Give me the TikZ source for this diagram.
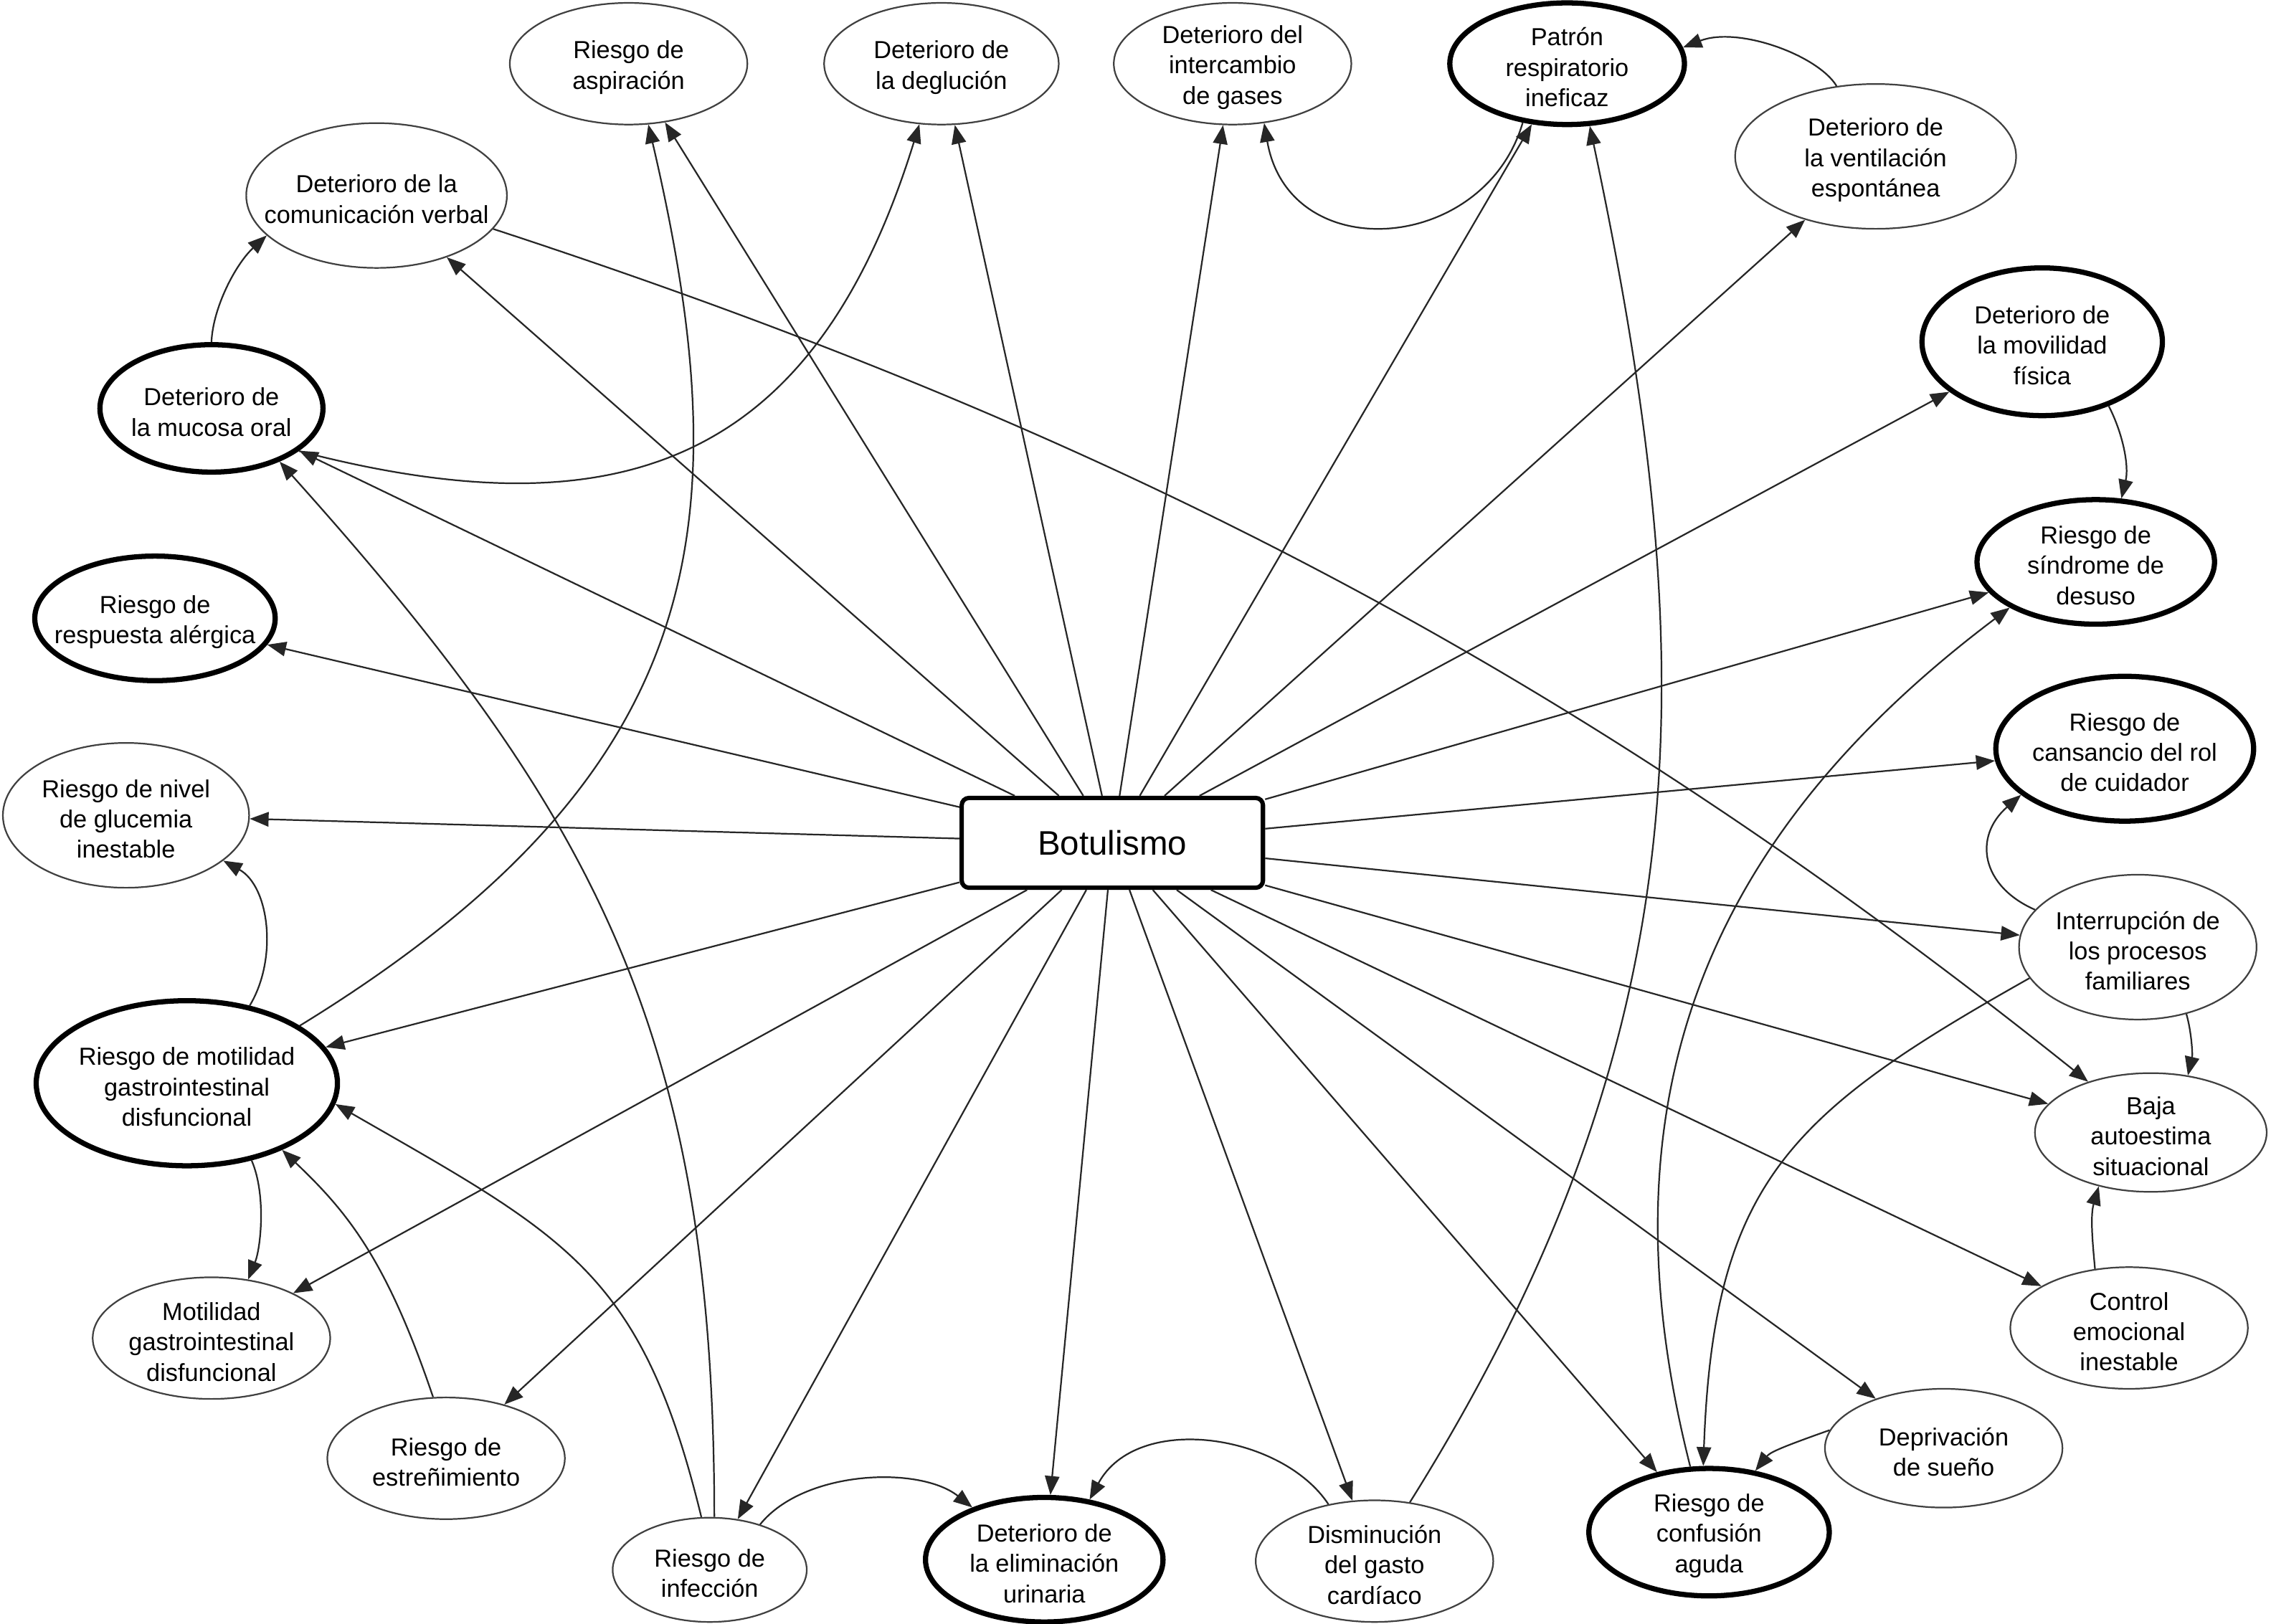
\documentclass[tikz,border=0pt]{standalone}
\usepackage{fontspec}
\setmainfont{Liberation Sans}
\usetikzlibrary{arrows.meta,shapes.geometric}
\begin{document}
\begin{tikzpicture}[x=1pt,y=-1pt,
 dx/.style={ellipse, draw=black!75, line width=1.1pt, fill=white, inner sep=0pt},
 dxb/.style={ellipse, draw=black, line width=3.6pt, fill=white, inner sep=0pt},
 txt/.style={align=center, font=\fontsize{17}{21}\selectfont, inner sep=0pt, text=black, yshift=-2.5pt},
 edge/.style={draw=black!85, line width=1.1pt, -{Triangle[length=13pt,width=10pt]}},
 box/.style={draw=black, line width=3pt, rounded corners=5pt, fill=white, minimum width=208pt, minimum height=62pt, font=\fontsize{23.5}{28}\selectfont}
]
\useasboundingbox (0,0) rectangle (1568,1121);
\fill[white] (0,0) rectangle (1568,1121);

% nodes
\node[box] (B) at (768,582) {Botulismo};
\node[dx,  minimum width=164pt, minimum height=84pt]  (asp)      at (434,44)   {};
\node[dx,  minimum width=162pt, minimum height=84pt]  (degl)     at (650,44)   {};
\node[dx,  minimum width=164pt, minimum height=84pt]  (inter)    at (851,44)   {};
\node[dxb, minimum width=162pt, minimum height=84pt]  (patron)   at (1082,44)  {};
\node[dx,  minimum width=194pt, minimum height=100pt] (vent)     at (1295,108) {};
\node[dxb, minimum width=166pt, minimum height=102pt] (movil)    at (1410,236) {};
\node[dxb, minimum width=164pt, minimum height=86pt]  (desuso)   at (1447,388) {};
\node[dxb, minimum width=178pt, minimum height=100pt] (cansancio) at (1467,517) {};
\node[dx,  minimum width=164pt, minimum height=100pt] (interr)   at (1476,654) {};
\node[dx,  minimum width=160pt, minimum height=82pt]  (baja)     at (1485,782) {};
\node[dx,  minimum width=164pt, minimum height=84pt]  (control)  at (1470,917) {};
\node[dx,  minimum width=164pt, minimum height=82pt]  (depriv)   at (1342,1000) {};
\node[dxb, minimum width=166pt, minimum height=88pt]  (confus)   at (1180,1058) {};
\node[dx,  minimum width=164pt, minimum height=84pt]  (dismin)   at (949,1078) {};
\node[dxb, minimum width=164pt, minimum height=86pt]  (elim)     at (721,1077) {};
\node[dx,  minimum width=134pt, minimum height=72pt]  (infec)    at (490,1084) {};
\node[dx,  minimum width=164pt, minimum height=84pt]  (estren)   at (308,1007) {};
\node[dx,  minimum width=164pt, minimum height=84pt]  (motil)    at (146,924)  {};
\node[dxb, minimum width=208pt, minimum height=114pt] (rmotil)   at (129,748)  {};
\node[dx,  minimum width=170pt, minimum height=100pt] (gluc)     at (87,563)   {};
\node[dxb, minimum width=166pt, minimum height=86pt]  (resp)     at (107,427)  {};
\node[dxb, minimum width=154pt, minimum height=88pt]  (mucosa)   at (146,282)  {};
\node[dx,  minimum width=180pt, minimum height=100pt] (comun)    at (260,135)  {};

% texts
\node[txt] at (asp)       {Riesgo de\\aspiración};
\node[txt] at (degl)      {Deterioro de\\la deglución};
\node[txt] at (inter)     {Deterioro del\\intercambio\\de gases};
\node[txt] at (patron)    {Patrón\\respiratorio\\ineficaz};
\node[txt] at (vent)      {Deterioro de\\la ventilación\\espontánea};
\node[txt] at (movil)     {Deterioro de\\la movilidad\\física};
\node[txt] at (desuso)    {Riesgo de\\síndrome de\\desuso};
\node[txt] at (cansancio) {Riesgo de\\cansancio del rol\\de cuidador};
\node[txt] at (interr)    {Interrupción de\\los procesos\\familiares};
\node[txt] at (baja)      {Baja\\autoestima\\situacional};
\node[txt] at (control)   {Control\\emocional\\inestable};
\node[txt] at (depriv)    {Deprivación\\de sueño};
\node[txt] at (confus)    {Riesgo de\\confusión\\aguda};
\node[txt] at (dismin)    {Disminución\\del gasto\\cardíaco};
\node[txt] at (elim)      {Deterioro de\\la eliminación\\urinaria};
\node[txt] at (infec)     {Riesgo de\\infección};
\node[txt] at (estren)    {Riesgo de\\estreñimiento};
\node[txt] at (motil)     {Motilidad\\gastrointestinal\\disfuncional};
\node[txt] at (rmotil)    {Riesgo de motilidad\\gastrointestinal\\disfuncional};
\node[txt] at (gluc)      {Riesgo de nivel\\de glucemia\\inestable};
\node[txt] at (resp)      {Riesgo de\\respuesta alérgica};
\node[txt] at (mucosa)    {Deterioro de\\la mucosa oral};
\node[txt] at (comun)     {Deterioro de la\\comunicación verbal};

% edges from Botulismo
\foreach \t in {comun,asp,degl,inter,patron,vent,movil,desuso,cansancio,interr,baja,control,depriv,confus,dismin,elim,infec,estren,motil,rmotil,gluc,resp,mucosa}
  \draw[edge] (B) -- (\t);

% other edges
\draw[edge] (mucosa.90) .. controls (147,212) and (163,182) .. (comun.200);
\draw[edge] (mucosa.334) .. controls (431,370) and (563,318) .. (degl.250);
\draw[edge] (infec.85) .. controls (493,716) and (413,564) .. (mucosa.322);
\draw[edge] (rmotil.27) .. controls (491,534) and (512,362) .. (asp.288);
\draw[edge] (rmotil.51) .. controls (192,662) and (186,612) .. (gluc.335);
\draw[edge] (rmotil.310) .. controls (184,825) and (180,862) .. (motil.58);
\draw[edge] (estren.102) .. controls (267,870) and (240,837) .. (rmotil.325);
\draw[edge] (infec.99) .. controls (443,878) and (391,854) .. (rmotil.352);
\draw[edge] (infec.42) .. controls (555,1015) and (635,1012) .. (elim.144);
\draw[edge] (dismin.129) .. controls (885,990) and (785,975) .. (elim.53);
\draw[edge] (dismin.59) .. controls (1179,709) and (1175,453) .. (patron.290);
\draw[edge] (vent.119) .. controls (1255,38) and (1200,18) .. (patron.8);
\draw[edge] (patron.233) .. controls (1025,175) and (890,185) .. (inter.298);
\draw[edge] (movil.316) .. controls (1466,300) and (1470,322) .. (desuso.68);
\draw[edge] (confus.106) .. controls (1102,757) and (1180,576) .. (desuso.208);
\draw[edge] (interr.196) .. controls (1235,769) and (1183,817) .. (confus.95);
\draw[edge] (interr.160) .. controls (1368,612) and (1362,578) .. (cansancio.204);
\draw[edge] (interr.306) .. controls (1513,712) and (1514,728) .. (baja.57);
\draw[edge] (control.120) .. controls (1445,860) and (1443,840) .. (baja.226);
\draw[edge] (depriv.171) .. controls (1228,1000) and (1222,1003) .. (confus.53);
\draw[edge] (comun.344) .. controls (771,299) and (1088,464) .. (baja.141);
\end{tikzpicture}
\end{document}
